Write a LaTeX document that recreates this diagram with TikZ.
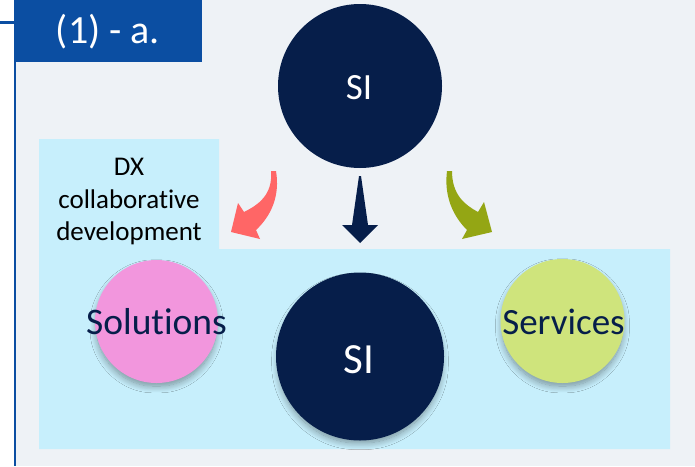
\documentclass[tikz,border=0pt]{standalone}
\usepackage{fontspec}
\setmainfont{Carlito}[Ligatures=NoCommon]
\usetikzlibrary{shadows.blur}
\definecolor{bggray}{HTML}{EEF2F6}
\definecolor{hdrblue}{HTML}{0B4EA2}
\definecolor{lightblue}{HTML}{C7EFFC}
\definecolor{navy}{HTML}{061E4A}
\definecolor{pinkc}{HTML}{F296DD}
\definecolor{greenc}{HTML}{CFE47C}
\definecolor{pinka}{HTML}{FF6666}
\definecolor{greena}{HTML}{94A614}
\definecolor{shadowc}{HTML}{2F4F5F}
\begin{document}
\begin{tikzpicture}[x=1pt,y=-1pt,
  disc/.style={circle,inner sep=0pt,minimum size=#1},
  shad/.style={blur shadow={shadow xshift=0pt,shadow yshift=-5pt,shadow blur radius=7pt,shadow blur steps=12,shadow scale=0.97,shadow opacity=40,shadow blur extra rounding=4pt}},
  lbl/.style={anchor=base,inner sep=0pt,text=navy},
]
\useasboundingbox (0,0) rectangle (695,466);
% backgrounds
\fill[white] (0,0) rectangle (695,466);
\fill[bggray] (16,0) rectangle (695,466);
\fill[lightblue] (39,139) -- (219,139) -- (219,249) -- (670,249) -- (670,449) -- (39,449) -- cycle;
% header
\fill[hdrblue] (14,0) rectangle (16,466);
\fill[hdrblue] (0,21) rectangle (16,24);
\node[fill=hdrblue,minimum width=188pt,minimum height=62pt,inner sep=0pt,anchor=north west] (hdr) at (14,0) {};
\node[anchor=base,inner sep=0pt,text=white,font=\fontsize{40}{48}\selectfont] (hdrtext) at (108,43) {(1) - a.};
% DX label
\node[align=center,inner sep=0pt,text=black,font=\fontsize{27}{32.5}\selectfont] (dx) at (129,202) {DX\\collaborative\\development};
% circles
\node[disc=164pt,fill=navy] (sitop) at (360,86) {};
\node[lbl,text=white,font=\fontsize{37}{44}\selectfont] (sitoptext) at (359,99) {SI};
\node[disc=123pt,fill=pinkc,shad] (sol) at (156.5,321.5) {};
\node[lbl,font=\fontsize{37.5}{45}\selectfont] (soltext) at (156.5,334) {Solutions};
\node[disc=124pt,fill=greenc,shad] (ser) at (562.5,321) {};
\node[lbl,font=\fontsize{37}{44}\selectfont] (sertext) at (563.5,334) {Services};
\node[disc=168pt,fill=navy,shad] (sibot) at (360,356.5) {};
\node[lbl,text=white,font=\fontsize{43}{52}\selectfont] (sibottext) at (359,373) {SI};
% arrows
\fill[pinka] (271,171) .. controls (273,195) and (258,205) .. (244,212) -- (238,203) -- (231,232) -- (260,239) -- (256,230) .. controls (272,215) and (280,195) .. (276,171) -- cycle;
\fill[greena] (452,171) .. controls (452,195) and (465,205) .. (478,212) -- (484,202) -- (492,232) -- (462,239) -- (467,230) .. controls (452,215) and (444,195) .. (447,171) -- cycle;
\fill[navy] (359,176) -- (361,176) -- (368,225) -- (378,225) -- (360,243) -- (342,225) -- (352,225) -- cycle;
\end{tikzpicture}
\end{document}
